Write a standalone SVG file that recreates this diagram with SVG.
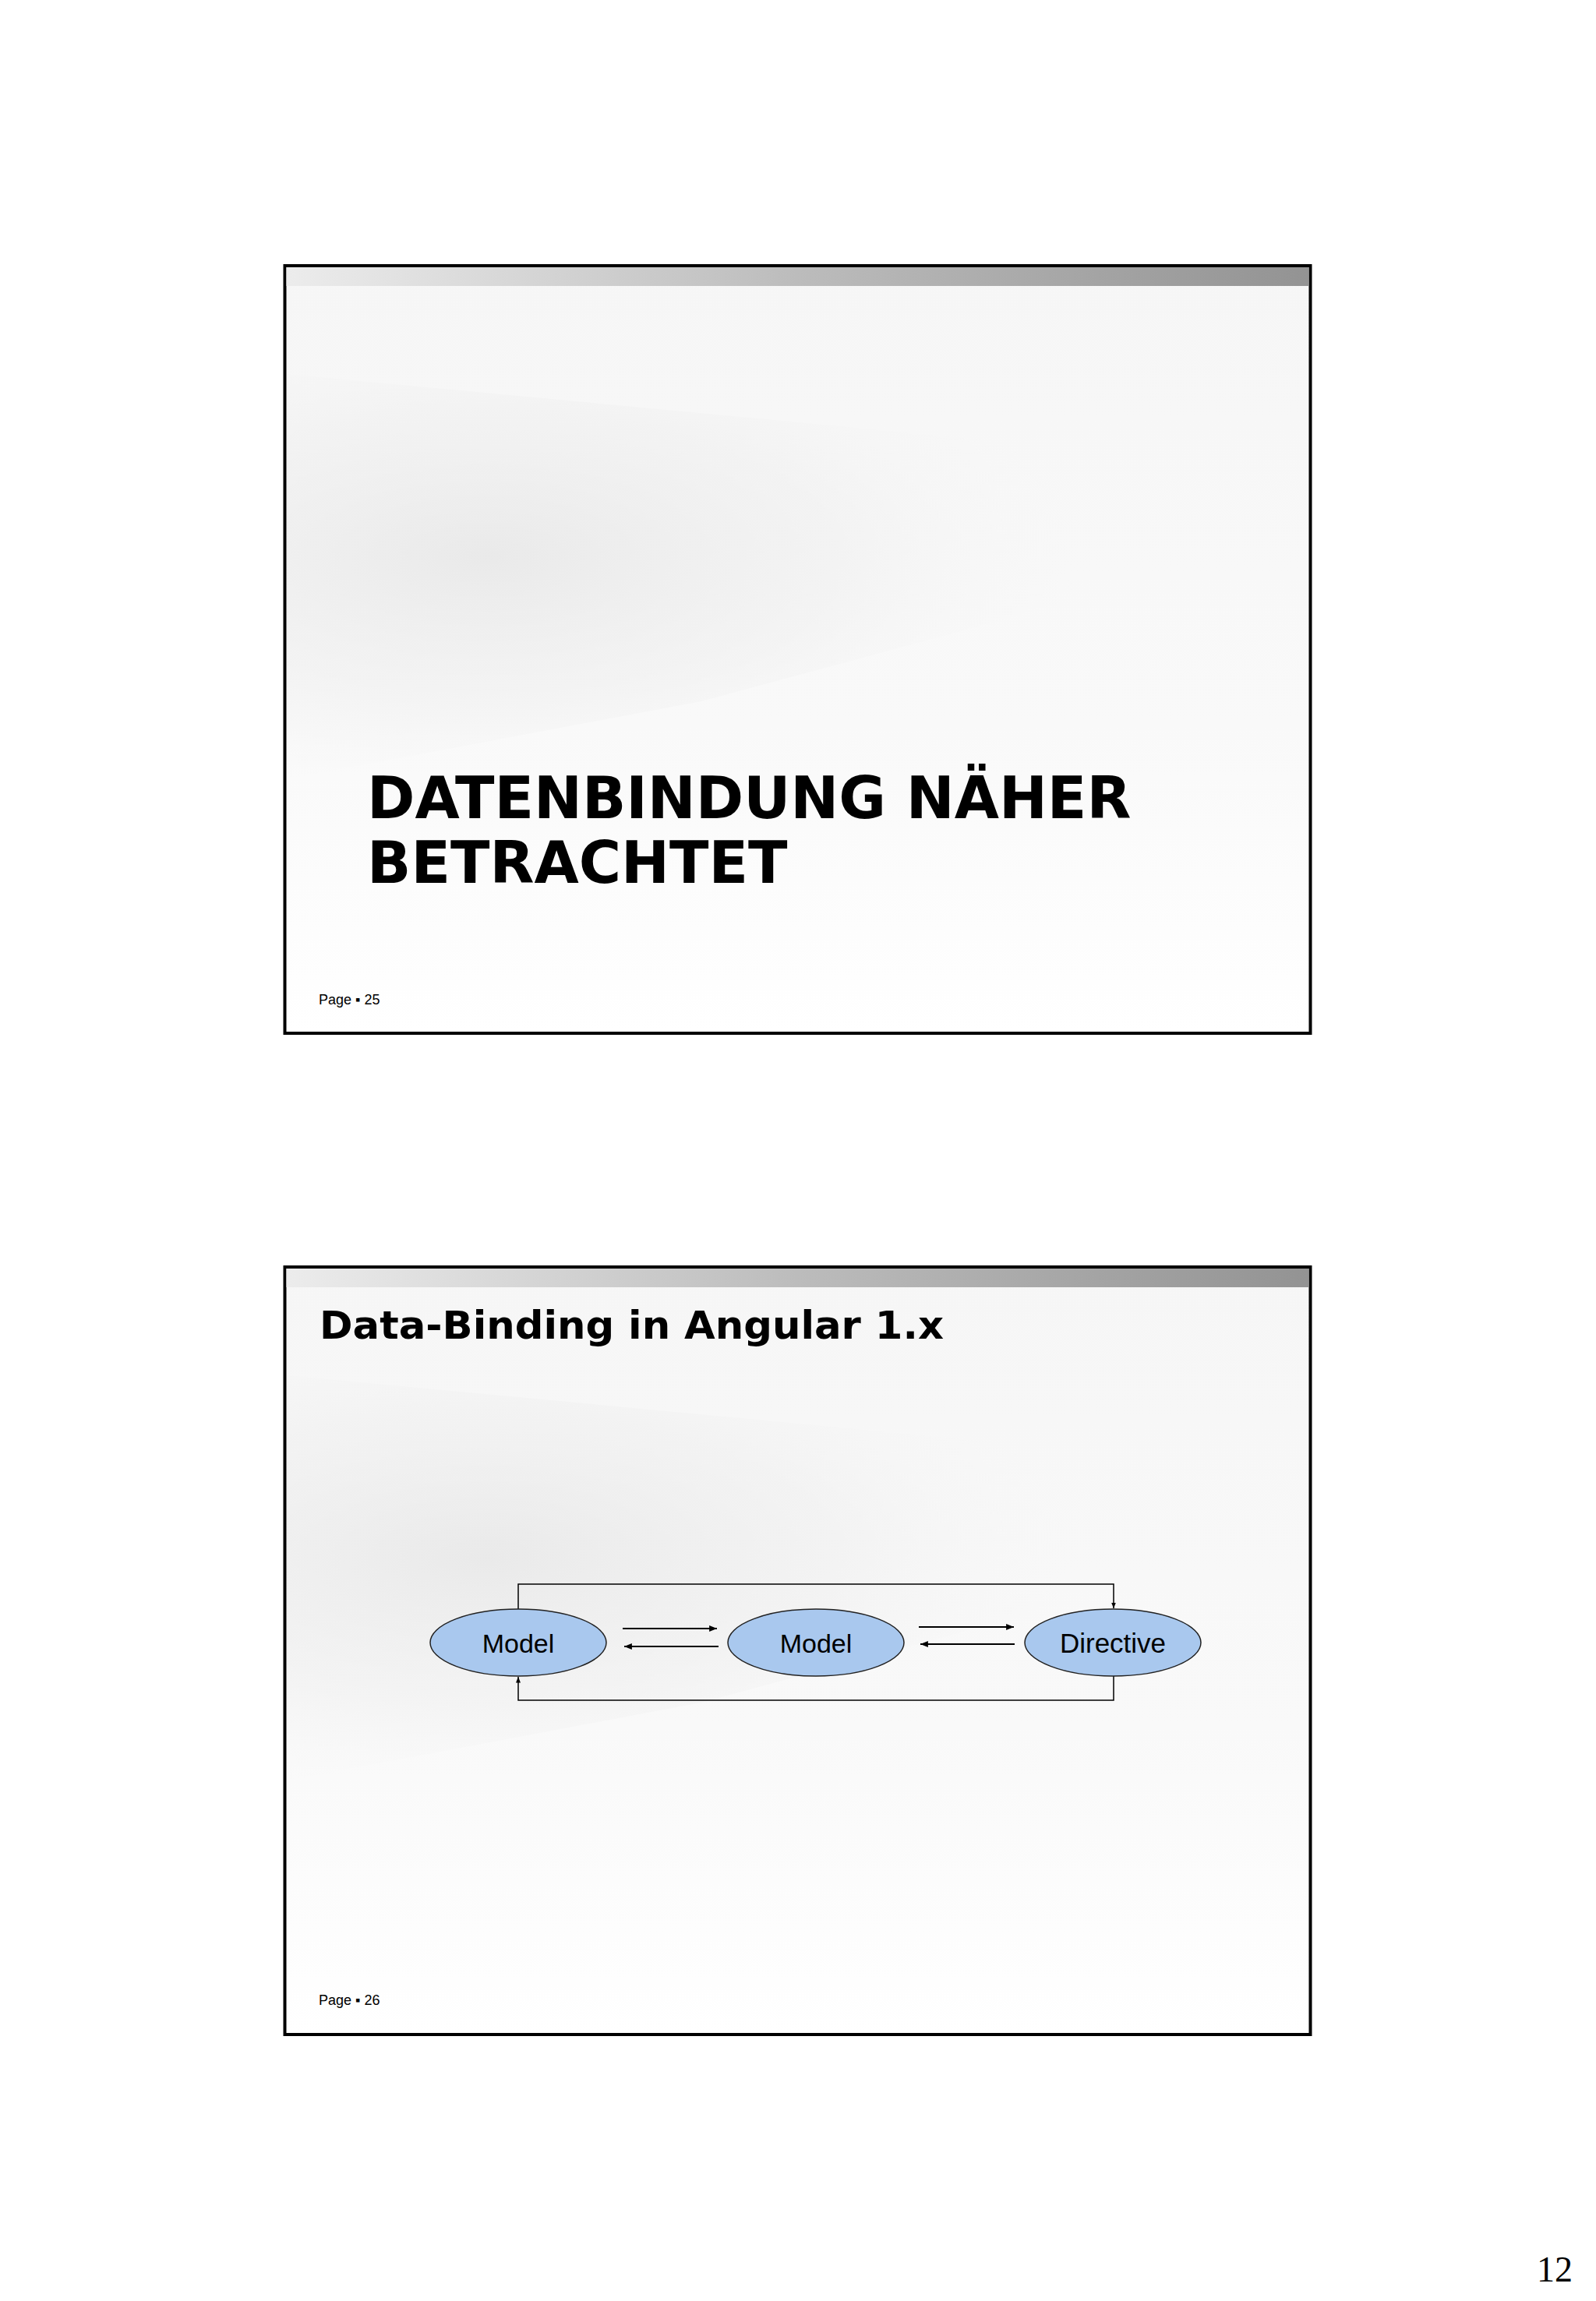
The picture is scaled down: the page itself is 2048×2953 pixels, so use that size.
<svg xmlns="http://www.w3.org/2000/svg" width="2048" height="2953" viewBox="0 0 2048 2953">
<defs>
<linearGradient id="banner" x1="0" y1="0" x2="1" y2="0">
<stop offset="0" stop-color="#ececec"/>
<stop offset="0.5" stop-color="#bcbcbc"/>
<stop offset="1" stop-color="#939393"/>
</linearGradient>
<linearGradient id="slidebg" x1="0" y1="0" x2="0" y2="1">
<stop offset="0" stop-color="#f6f6f6"/>
<stop offset="0.6" stop-color="#f9f9f9"/>
<stop offset="1" stop-color="#ffffff"/>
</linearGradient>
<radialGradient id="tex" cx="0.2" cy="0.45" r="0.6">
<stop offset="0" stop-color="#e6e6e6" stop-opacity="0.8"/>
<stop offset="0.6" stop-color="#ececec" stop-opacity="0.4"/>
<stop offset="1" stop-color="#f6f6f6" stop-opacity="0"/>
</radialGradient>
<marker id="ah" viewBox="0 0 10 10" refX="10" refY="5" markerWidth="5" markerHeight="5" orient="auto" markerUnits="strokeWidth">
<path d="M0,1 L10,5 L0,9 z" fill="#000"/>
</marker>
<marker id="ah2" viewBox="0 0 10 10" refX="10" refY="5" markerWidth="4.5" markerHeight="4.5" orient="auto" markerUnits="strokeWidth">
<path d="M0,1 L10,5 L0,9 z" fill="#000"/>
</marker>
</defs>
<style>
.frame{fill:url(#slidebg);stroke:#000;stroke-width:4}
.tex{fill:url(#tex)}
.title{font-family:"DejaVu Sans",Verdana,sans-serif;font-weight:bold;fill:#000}
.page{font-family:"Liberation Sans",Arial,sans-serif;font-size:18px;fill:#000}
.node ellipse{fill:#a9c8ee;stroke:#222;stroke-width:1.5}
.node text{font-family:"Liberation Sans",Arial,sans-serif;fill:#000;text-anchor:middle}
.conn{fill:none;stroke:#000;stroke-width:1.5}
.conn2{fill:none;stroke:#000;stroke-width:2.2}
</style>
<rect width="2048" height="2953" fill="#ffffff"/>

<g id="slide1">
<rect class="frame" x="365.5" y="341" width="1316" height="985"/>
<path class="tex" d="M368,480 L1640,600 L1640,700 L900,900 L368,1000 Z"/>
<rect x="367.5" y="343" width="1312" height="24" fill="url(#banner)"/>
<text class="title" font-size="74" x="471" y="1050">DATENBINDUNG NÄHER</text>
<text class="title" font-size="74" x="471" y="1133">BETRACHTET</text>
<text class="page" x="409" y="1289">Page ▪ 25</text>
</g>

<g id="slide2">
<rect class="frame" x="365.5" y="1626" width="1316" height="985"/>
<path class="tex" d="M368,1765 L1640,1885 L1640,1985 L900,2185 L368,2285 Z"/>
<rect x="367.5" y="1628" width="1312" height="24" fill="url(#banner)"/>
<text class="title" font-size="50" x="410" y="1718" textLength="801" lengthAdjust="spacingAndGlyphs">Data-Binding in Angular 1.x</text>
<text class="page" x="409" y="2573">Page ▪ 26</text>
</g>

<g id="connectors">
<path class="conn" d="M665,2065 V2033 H1429 V2064" marker-end="url(#ah)"/>
<path class="conn" d="M1429,2151 V2182 H665 V2152" marker-end="url(#ah)"/>
<path class="conn2" d="M799,2090 H920" marker-end="url(#ah2)"/>
<path class="conn2" d="M922,2113 H801" marker-end="url(#ah2)"/>
<path class="conn2" d="M1179,2088 H1301" marker-end="url(#ah2)"/>
<path class="conn2" d="M1302,2110 H1181" marker-end="url(#ah2)"/>
</g>

<g id="node-model1" class="node">
<ellipse cx="665" cy="2108" rx="113" ry="43"/>
<text x="665" y="2121" font-size="34">Model</text>
</g>
<g id="node-model2" class="node">
<ellipse cx="1047" cy="2108" rx="113" ry="43"/>
<text x="1047" y="2121" font-size="34">Model</text>
</g>
<g id="node-directive" class="node">
<ellipse cx="1428" cy="2108" rx="113" ry="43"/>
<text x="1428" y="2121" font-size="35">Directive</text>
</g>

<text x="2018" y="2928" font-family="Liberation Serif,'Times New Roman',serif" font-size="46" text-anchor="end" fill="#000">12</text>
</svg>
